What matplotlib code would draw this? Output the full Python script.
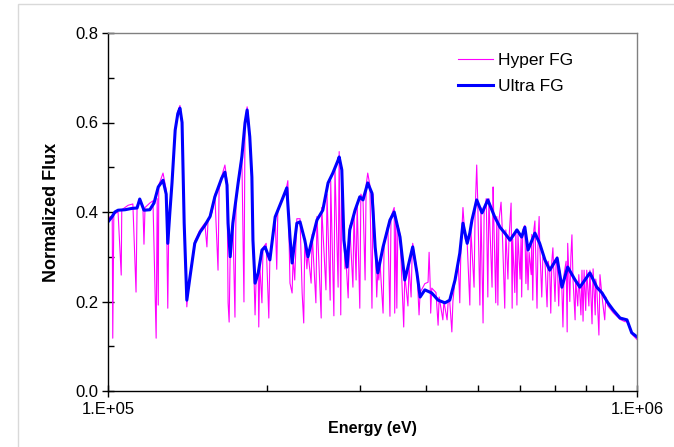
import numpy as np
import matplotlib
matplotlib.use("Agg")
import matplotlib.pyplot as plt
from matplotlib.patches import Rectangle
from matplotlib.ticker import MultipleLocator, FixedLocator, NullFormatter

# ---------------- data (log10 of energy in eV, normalized flux) ----------------
ultra_log_e = [5.000, 5.008, 5.013, 5.019, 5.032, 5.045, 5.055, 5.060, 5.068, 5.079,
               5.087, 5.095, 5.104, 5.110, 5.113, 5.117, 5.121, 5.127, 5.132, 5.136,
               5.140, 5.144, 5.149, 5.155, 5.164, 5.174, 5.183, 5.193, 5.202, 5.215,
               5.221, 5.225, 5.227, 5.231, 5.236, 5.246, 5.253, 5.259, 5.263, 5.268,
               5.272, 5.274, 5.278, 5.284, 5.291, 5.297, 5.306, 5.316, 5.329, 5.338,
               5.344, 5.348, 5.357, 5.363, 5.372, 5.378, 5.386, 5.395, 5.406, 5.416,
               5.425, 5.435, 5.437, 5.442, 5.446, 5.452, 5.457, 5.467, 5.476, 5.482,
               5.491, 5.499, 5.505, 5.510, 5.520, 5.533, 5.541, 5.552, 5.561, 5.567,
               5.576, 5.584, 5.590, 5.599, 5.612, 5.624, 5.637, 5.646, 5.656, 5.665,
               5.671, 5.679, 5.684, 5.688, 5.697, 5.707, 5.718, 5.731, 5.741, 5.750,
               5.760, 5.773, 5.782, 5.788, 5.794, 5.807, 5.816, 5.826, 5.835, 5.849,
               5.858, 5.869, 5.883, 5.892, 5.911, 5.924, 5.934, 5.945, 5.955, 5.968,
               5.981, 5.990, 6.000]
ultra_flux = [0.378, 0.390, 0.400, 0.404, 0.405, 0.408, 0.409, 0.429, 0.404, 0.405,
              0.420, 0.456, 0.471, 0.440, 0.330, 0.400, 0.465, 0.583, 0.620, 0.632,
              0.600, 0.375, 0.203, 0.255, 0.330, 0.355, 0.370, 0.390, 0.434, 0.476,
              0.489, 0.460, 0.375, 0.300, 0.375, 0.465, 0.523, 0.599, 0.628, 0.568,
              0.478, 0.337, 0.241, 0.264, 0.315, 0.322, 0.293, 0.389, 0.427, 0.454,
              0.344, 0.286, 0.375, 0.378, 0.337, 0.300, 0.340, 0.382, 0.404, 0.465,
              0.487, 0.516, 0.523, 0.494, 0.337, 0.277, 0.360, 0.404, 0.434, 0.427,
              0.465, 0.442, 0.322, 0.264, 0.322, 0.382, 0.400, 0.344, 0.248, 0.277,
              0.322, 0.264, 0.210, 0.226, 0.219, 0.203, 0.197, 0.203, 0.248, 0.308,
              0.375, 0.330, 0.353, 0.382, 0.427, 0.398, 0.427, 0.389, 0.366, 0.353,
              0.337, 0.360, 0.344, 0.366, 0.315, 0.353, 0.330, 0.293, 0.270, 0.297,
              0.232, 0.277, 0.248, 0.232, 0.264, 0.232, 0.219, 0.197, 0.181, 0.163,
              0.159, 0.130, 0.121]

hyper_log_e = [5.000, 5.004, 5.008, 5.009, 5.011, 5.019, 5.025, 5.026, 5.038, 5.047,
               5.053, 5.055, 5.060, 5.066, 5.068, 5.070, 5.079, 5.085, 5.091, 5.093,
               5.095, 5.096, 5.104, 5.110, 5.113, 5.115, 5.121, 5.127, 5.132, 5.136,
               5.140, 5.144, 5.147, 5.149, 5.151, 5.155, 5.164, 5.174, 5.183, 5.187,
               5.189, 5.197, 5.202, 5.208, 5.210, 5.215, 5.221, 5.225, 5.227, 5.229,
               5.231, 5.236, 5.240, 5.242, 5.246, 5.253, 5.257, 5.259, 5.263, 5.265,
               5.268, 5.272, 5.274, 5.278, 5.280, 5.284, 5.285, 5.287, 5.291, 5.293,
               5.299, 5.304, 5.306, 5.316, 5.319, 5.321, 5.329, 5.335, 5.340, 5.344,
               5.348, 5.350, 5.353, 5.357, 5.363, 5.367, 5.370, 5.372, 5.376, 5.378,
               5.384, 5.386, 5.393, 5.395, 5.403, 5.404, 5.412, 5.414, 5.420, 5.421,
               5.427, 5.429, 5.435, 5.437, 5.440, 5.442, 5.448, 5.450, 5.454, 5.457,
               5.463, 5.465, 5.469, 5.471, 5.476, 5.478, 5.482, 5.486, 5.488, 5.491,
               5.495, 5.499, 5.501, 5.505, 5.508, 5.510, 5.512, 5.514, 5.520, 5.522,
               5.529, 5.533, 5.535, 5.541, 5.542, 5.544, 5.546, 5.548, 5.552, 5.559,
               5.561, 5.567, 5.569, 5.573, 5.575, 5.576, 5.584, 5.588, 5.590, 5.599,
               5.605, 5.607, 5.609, 5.610, 5.612, 5.620, 5.624, 5.626, 5.633, 5.635,
               5.641, 5.643, 5.646, 5.650, 5.652, 5.656, 5.662, 5.665, 5.667, 5.671,
               5.675, 5.679, 5.684, 5.686, 5.692, 5.694, 5.697, 5.699, 5.703, 5.705,
               5.709, 5.711, 5.715, 5.718, 5.720, 5.726, 5.728, 5.729, 5.733, 5.735,
               5.737, 5.739, 5.743, 5.745, 5.750, 5.752, 5.756, 5.758, 5.762, 5.764,
               5.765, 5.769, 5.771, 5.773, 5.775, 5.779, 5.781, 5.782, 5.784, 5.788,
               5.790, 5.792, 5.794, 5.796, 5.800, 5.801, 5.803, 5.805, 5.807, 5.811,
               5.813, 5.815, 5.816, 5.820, 5.822, 5.826, 5.830, 5.832, 5.835, 5.837,
               5.839, 5.841, 5.845, 5.847, 5.849, 5.852, 5.854, 5.858, 5.860, 5.862,
               5.866, 5.868, 5.869, 5.873, 5.875, 5.877, 5.879, 5.883, 5.884, 5.888,
               5.890, 5.894, 5.896, 5.898, 5.900, 5.903, 5.905, 5.909, 5.911, 5.915,
               5.917, 5.921, 5.922, 5.924, 5.928, 5.930, 5.934, 5.937, 5.939, 5.941,
               5.945, 5.955, 5.968, 5.977, 5.981, 5.987, 5.992, 6.000]
hyper_flux = [0.380, 0.390, 0.390, 0.118, 0.395, 0.400, 0.259, 0.405, 0.415, 0.418,
              0.221, 0.415, 0.425, 0.410, 0.328, 0.410, 0.420, 0.425, 0.118, 0.430,
              0.192, 0.460, 0.487, 0.450, 0.185, 0.380, 0.470, 0.585, 0.625, 0.638,
              0.600, 0.380, 0.250, 0.188, 0.220, 0.260, 0.335, 0.360, 0.375, 0.322,
              0.380, 0.400, 0.440, 0.270, 0.450, 0.480, 0.505, 0.470, 0.197, 0.154,
              0.310, 0.380, 0.165, 0.420, 0.470, 0.530, 0.199, 0.600, 0.635, 0.620,
              0.570, 0.480, 0.340, 0.170, 0.250, 0.270, 0.143, 0.280, 0.197, 0.320,
              0.330, 0.163, 0.300, 0.390, 0.272, 0.400, 0.430, 0.440, 0.470, 0.241,
              0.219, 0.300, 0.248, 0.385, 0.385, 0.219, 0.152, 0.340, 0.273, 0.310,
              0.241, 0.350, 0.197, 0.390, 0.163, 0.410, 0.226, 0.440, 0.203, 0.470,
              0.168, 0.500, 0.232, 0.535, 0.170, 0.500, 0.273, 0.290, 0.208, 0.370,
              0.232, 0.400, 0.248, 0.420, 0.185, 0.440, 0.430, 0.248, 0.460, 0.487,
              0.460, 0.185, 0.440, 0.330, 0.210, 0.270, 0.248, 0.290, 0.174, 0.330,
              0.370, 0.167, 0.390, 0.410, 0.174, 0.390, 0.185, 0.370, 0.350, 0.143,
              0.260, 0.190, 0.280, 0.210, 0.310, 0.330, 0.270, 0.170, 0.220, 0.240,
              0.243, 0.310, 0.240, 0.174, 0.230, 0.220, 0.147, 0.210, 0.159, 0.200,
              0.159, 0.200, 0.200, 0.132, 0.200, 0.250, 0.290, 0.197, 0.310, 0.410,
              0.340, 0.330, 0.192, 0.360, 0.232, 0.400, 0.505, 0.420, 0.192, 0.410,
              0.152, 0.400, 0.430, 0.210, 0.430, 0.232, 0.456, 0.400, 0.197, 0.390,
              0.192, 0.380, 0.422, 0.370, 0.185, 0.360, 0.250, 0.340, 0.420, 0.185,
              0.340, 0.220, 0.360, 0.192, 0.350, 0.250, 0.350, 0.210, 0.360, 0.370,
              0.240, 0.320, 0.226, 0.310, 0.260, 0.350, 0.203, 0.360, 0.380, 0.185,
              0.340, 0.390, 0.330, 0.210, 0.300, 0.290, 0.188, 0.290, 0.270, 0.174,
              0.290, 0.320, 0.200, 0.280, 0.300, 0.190, 0.270, 0.230, 0.143, 0.260,
              0.290, 0.132, 0.330, 0.200, 0.300, 0.349, 0.250, 0.159, 0.250, 0.190,
              0.260, 0.170, 0.270, 0.156, 0.270, 0.180, 0.270, 0.190, 0.270, 0.150,
              0.273, 0.170, 0.250, 0.230, 0.125, 0.260, 0.210, 0.180, 0.159, 0.210,
              0.190, 0.175, 0.160, 0.155, 0.155, 0.140, 0.125, 0.115]

series_labels = ["Hyper FG", "Ultra FG"]
x_tick_labels = ["1.E+05", "1.E+06"]
y_ticks = [0.0, 0.2, 0.4, 0.6, 0.8]

# ---------------- figure ----------------
plt.rcParams['font.family'] = ['Liberation Sans', 'DejaVu Sans']
W, H = 674, 447
fig = plt.figure(figsize=(W / 100, H / 100), dpi=100)

# outer chart-area border
fig.patches.append(Rectangle((18 / W, -0.1), 2.0, 1.1 - 4 / H, transform=fig.transFigure,
                             fill=False, edgecolor='#d9d9d9', linewidth=1.0))

ax = fig.add_axes([108 / W, 1 - 391 / H, 529 / W, 358 / H])

hyper_e = 10 ** np.array(hyper_log_e)
ultra_e = 10 ** np.array(ultra_log_e)

ax.plot(hyper_e, hyper_flux, color='#FF00FF', lw=0.8, label=series_labels[0])
ax.plot(ultra_e, ultra_flux, color='#0000FF', lw=2.2, label=series_labels[1])

ax.set_xscale('log')
ax.set_xlim(1e5, 1e6)
ax.set_ylim(0, 0.8)

ax.xaxis.set_major_locator(FixedLocator([1e5, 1e6]))
ax.set_xticklabels(x_tick_labels)
ax.xaxis.set_minor_locator(FixedLocator([k * 1e5 for k in range(2, 10)]))
ax.xaxis.set_minor_formatter(NullFormatter())
ax.set_yticks(y_ticks)
ax.set_yticklabels([f"{v:.1f}" for v in y_ticks])
ax.yaxis.set_minor_locator(MultipleLocator(0.1))

ax.tick_params(axis='both', which='major', direction='inout', length=8, width=1,
               labelsize=12, colors='black')
ax.tick_params(axis='x', which='major', pad=4)
ax.tick_params(axis='y', which='major', pad=3)
ax.tick_params(axis='both', which='minor', direction='in', length=4, width=1)

for s in ['left', 'bottom']:
    ax.spines[s].set_color('black')
    ax.spines[s].set_linewidth(1.0)
for s in ['top', 'right']:
    ax.spines[s].set_color('#808080')
    ax.spines[s].set_linewidth(1.0)

ax.set_xlabel("Energy (eV)", fontsize=11.5, fontweight='bold', labelpad=3)
ax.set_ylabel("Normalized Flux", fontsize=13, fontweight='bold', labelpad=11)

leg = ax.legend(loc='upper left', bbox_to_anchor=(458 / W, 1 - 53 / H),
                bbox_transform=fig.transFigure, frameon=False, fontsize=12.5,
                handlelength=2.0, handletextpad=0.3, labelspacing=0.62,
                borderpad=0, borderaxespad=0)

fig.savefig("out.png", dpi=100)
